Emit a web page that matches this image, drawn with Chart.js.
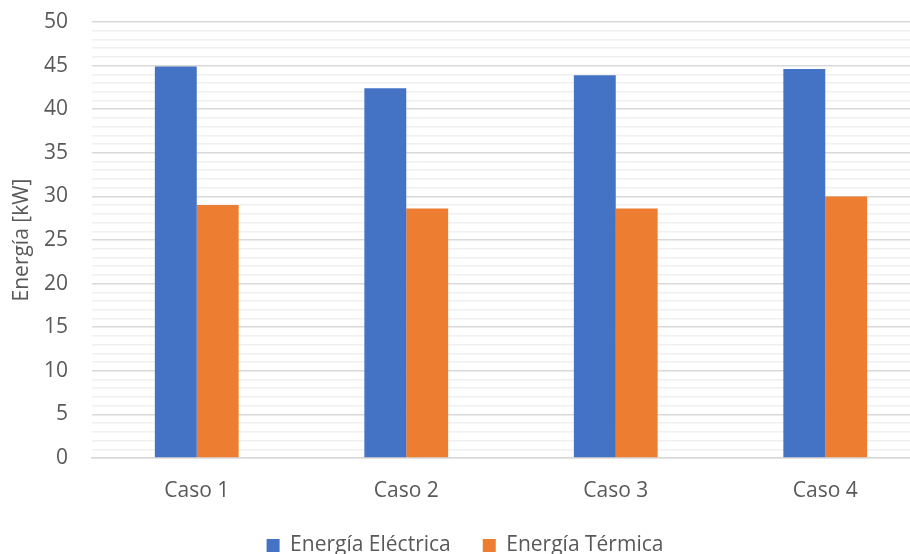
<!DOCTYPE html>
<html>
<head>
<meta charset="utf-8">
<script src="https://cdn.jsdelivr.net/npm/chart.js@4.4.1/dist/chart.umd.min.js"></script>
<style>
  html, body { margin: 0; padding: 0; background: #ffffff; overflow: hidden; }
  #wrap { position: absolute; left: 0; top: 0; width: 930px; height: 554px; }
</style>
</head>
<body>
<div id="wrap"><canvas id="chart"></canvas></div>
<script>
// Energy per case
const categories = ['Caso 1', 'Caso 2', 'Caso 3', 'Caso 4'];
const electrica = [44.9, 42.4, 43.9, 44.6];
const termica = [29.0, 28.6, 28.6, 30.0];
const seriesNames = ['Energía Eléctrica', 'Energía Térmica'];
const yTitle = 'Energía [kW]';

const textColor = '#595959';
const fontFamily = "'Open Sans', 'Liberation Sans', sans-serif";
const fontSize = 21;

// Wide horizontal spacing between legend items, but a compact legend band
const legendBand = {
  id: 'legendBand',
  beforeUpdate(chart) {
    const lg = chart.legend;
    if (lg && !lg._banded) {
      lg._banded = true;
      const baseFit = lg.fit;
      lg.fit = function () {
        baseFit.call(this);
        this.height = 51;
      };
    }
  }
};

new Chart(document.getElementById('chart'), {
  type: 'bar',
  data: {
    labels: categories,
    datasets: [
      { label: seriesNames[0], data: electrica, backgroundColor: '#4472C4' },
      { label: seriesNames[1], data: termica, backgroundColor: '#ED7D31' }
    ]
  },
  plugins: [legendBand],
  options: {
    responsive: true,
    maintainAspectRatio: false,
    animation: false,
    categoryPercentage: 0.4,
    barPercentage: 1.0,
    layout: { padding: { top: 22, left: 0, right: 0, bottom: 0 } },
    plugins: {
      tooltip: { enabled: false },
      legend: {
        position: 'bottom',
        labels: {
          color: textColor,
          font: { family: fontFamily, size: fontSize },
          boxWidth: 13,
          boxHeight: 13,
          padding: 32
        }
      }
    },
    scales: {
      x: {
        grid: { display: false },
        border: { color: '#d9d9d9', width: 1.5 },
        ticks: { color: textColor, font: { family: fontFamily, size: fontSize }, padding: 12 },
        afterFit: (s) => { s.height = 45; s.paddingLeft = 0; s.paddingRight = 0; }
      },
      y: {
        min: 0,
        max: 50,
        ticks: {
          stepSize: 1,
          autoSkip: false,
          color: textColor,
          font: { family: fontFamily, size: fontSize },
          padding: 24,
          callback: (v) => (v % 5 === 0 ? String(v) : '')
        },
        grid: {
          drawTicks: false,
          color: (ctx) => (ctx.tick && ctx.tick.value % 5 === 0 ? '#d9d9d9' : '#f0f0f0'),
          lineWidth: 1.5
        },
        border: { display: false },
        title: {
          display: true,
          text: yTitle,
          color: textColor,
          font: { family: fontFamily, size: fontSize },
          padding: { top: 9, bottom: 0 }
        },
        afterFit: (s) => { s.width = 92; s.paddingTop = 0; s.paddingBottom = 0; }
      }
    }
  }
});
</script>
</body>
</html>
